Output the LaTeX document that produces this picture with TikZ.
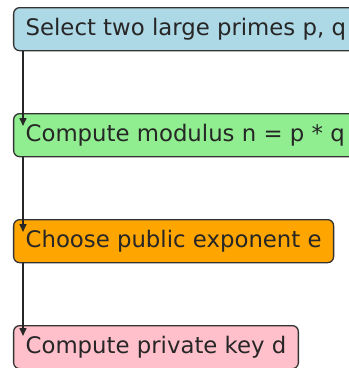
\documentclass[tikz,border=0pt]{standalone}
\usepackage{fontspec}
\setmainfont{DejaVu Sans}
\usetikzlibrary{arrows.meta}
\definecolor{cblue}{HTML}{ADD8E6}
\definecolor{cgreen}{HTML}{90EE90}
\definecolor{corange}{HTML}{FFA500}
\definecolor{cpink}{HTML}{FFC0CB}
\definecolor{cedge}{HTML}{333333}
\begin{document}
\begin{tikzpicture}[x=1pt,y=-1pt,
  stepbox/.style={draw=cedge, line width=1.3pt, rounded corners=6pt, anchor=north west,
    minimum height=43pt, inner xsep=12pt, inner ysep=0pt,
    font=\fontsize{22.8}{26}\selectfont, text height=16.6pt, text depth=4.5pt, text=black!85},
  flow/.style={-{Triangle[length=8pt,width=7pt]}, line width=1.5pt, draw=black!85}]
\useasboundingbox (0,0) rectangle (349,368);
\clip (0,0) rectangle (349,368);
\node[stepbox, fill=cblue] (s1) at (13,7) {Select two large primes p, q};
\node[stepbox, fill=cgreen] (s2) at (13,113) {Compute modulus n = p * q};
\node[stepbox, fill=corange] (s3) at (13,219) {Choose public exponent e};
\node[stepbox, fill=cpink] (s4) at (13,325) {Compute private key d};
\draw[flow] ([xshift=10pt]s1.south west) -- ([xshift=10pt,yshift=-13pt]s2.north west);
\draw[flow] ([xshift=10pt]s2.south west) -- ([xshift=10pt,yshift=-13pt]s3.north west);
\draw[flow] ([xshift=10pt]s3.south west) -- ([xshift=10pt,yshift=-11pt]s4.north west);
\end{tikzpicture}
\end{document}
